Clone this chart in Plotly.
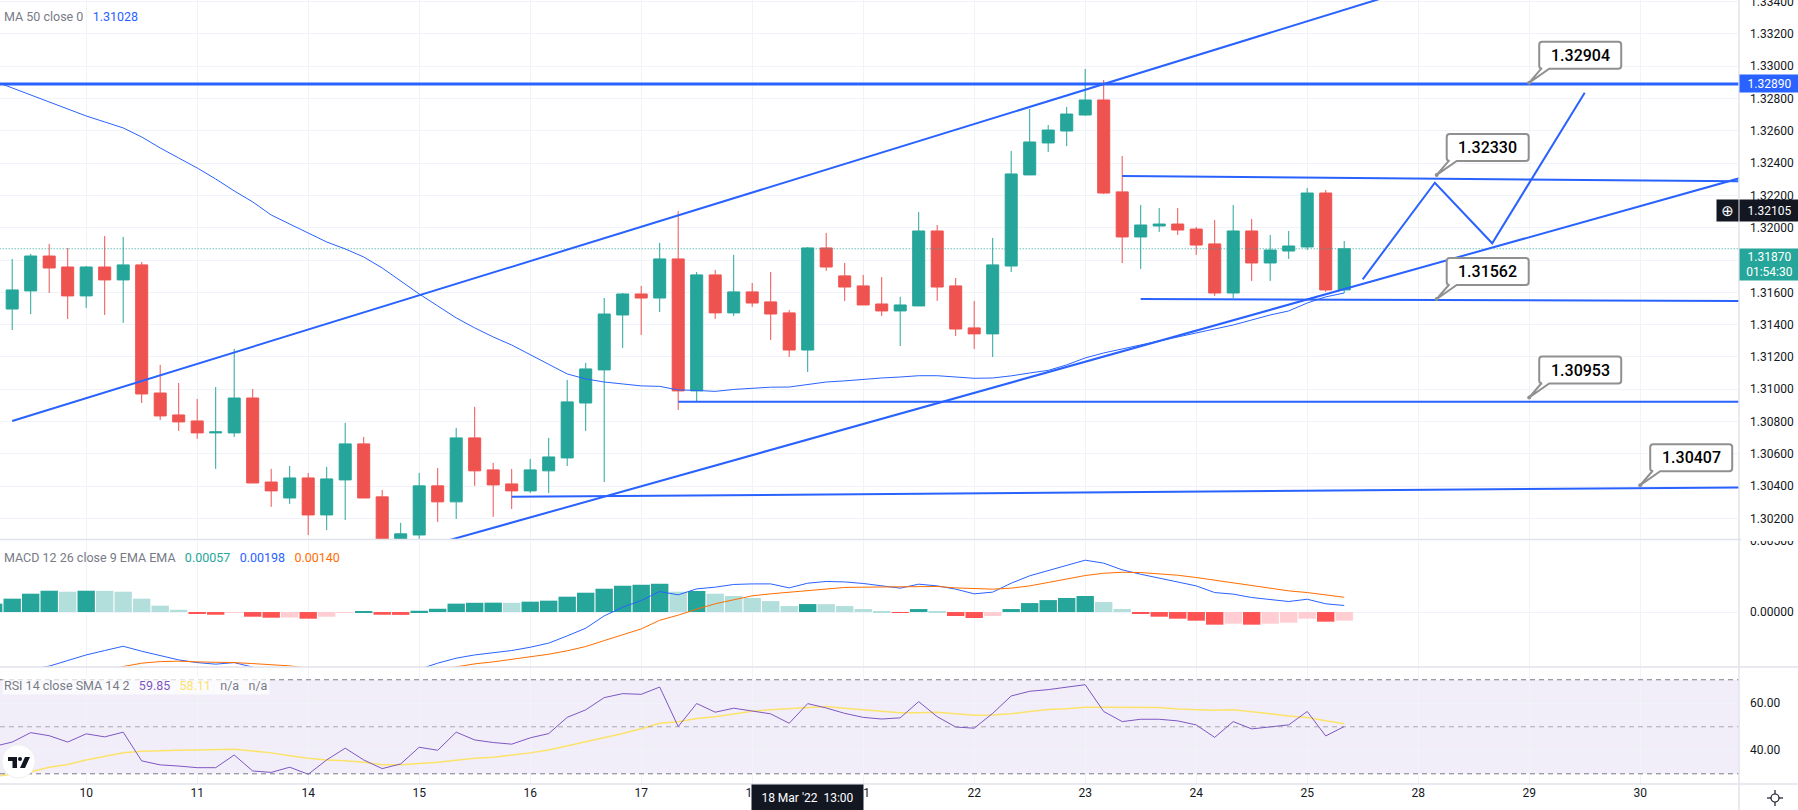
import plotly.graph_objects as go
from plotly.subplots import make_subplots

# 4H candles, index 0 is the first bar on the left
bars = list(range(73))
opens = [1.31497, 1.31609, 1.31825, 1.31757, 1.31578, 1.31757, 1.31677, 1.31770, 1.30977, 1.30841,
         1.30804, 1.30730, 1.30730, 1.30946, 1.30426, 1.30327, 1.30451, 1.30222, 1.30439, 1.30662,
         1.30334, 1.30030, 1.30098, 1.30402, 1.30303, 1.30699, 1.30501, 1.30414, 1.30371, 1.30495,
         1.30575, 1.30915, 1.31120, 1.31460, 1.31590, 1.31565, 1.31807, 1.30990, 1.31708, 1.31473,
         1.31603, 1.31541, 1.31473, 1.31243, 1.31875, 1.31702, 1.31640, 1.31528, 1.31485, 1.31516,
         1.31980, 1.31640, 1.31380, 1.31343, 1.31763, 1.32327, 1.32525, 1.32599, 1.32698, 1.32791,
         1.32222, 1.31943, 1.32011, 1.32023, 1.31992, 1.31900, 1.31596, 1.31980, 1.31782, 1.31856,
         1.31881, 1.32215, 1.31615]
highs = [1.31807, 1.31838, 1.31900, 1.31875, 1.31763, 1.31949, 1.31943, 1.31788, 1.31151, 1.31039,
         1.30940, 1.31014, 1.31250, 1.31002, 1.30507, 1.30525, 1.30482, 1.30519, 1.30792, 1.30705,
         1.30377, 1.30173, 1.30482, 1.30513, 1.30761, 1.30891, 1.30544, 1.30507, 1.30569, 1.30699,
         1.31058, 1.31163, 1.31565, 1.31596, 1.31640, 1.31906, 1.32104, 1.31726, 1.31739, 1.31832,
         1.31658, 1.31726, 1.31491, 1.31881, 1.31968, 1.31782, 1.31708, 1.31695, 1.31572, 1.32098,
         1.32017, 1.31689, 1.31547, 1.31937, 1.32475, 1.32735, 1.32636, 1.32748, 1.32983, 1.32915,
         1.32444, 1.32141, 1.32122, 1.32122, 1.32005, 1.32048, 1.32141, 1.32054, 1.31955, 1.31980,
         1.32246, 1.32234, 1.31918]
lows = [1.31367, 1.31466, 1.31596, 1.31435, 1.31503, 1.31460, 1.31411, 1.30915, 1.30810, 1.30742,
        1.30693, 1.30507, 1.30705, 1.30420, 1.30272, 1.30290, 1.30098, 1.30129, 1.30191, 1.30327,
        1.29975, 1.29975, 1.30074, 1.30179, 1.30197, 1.30402, 1.30210, 1.30259, 1.30358, 1.30358,
        1.30525, 1.30742, 1.30426, 1.31256, 1.31336, 1.31479, 1.30872, 1.30922, 1.31435, 1.31454,
        1.31510, 1.31305, 1.31200, 1.31107, 1.31733, 1.31547, 1.31522, 1.31454, 1.31268, 1.31516,
        1.31547, 1.31330, 1.31250, 1.31200, 1.31726, 1.32327, 1.32469, 1.32506, 1.32692, 1.32209,
        1.31782, 1.31745, 1.31974, 1.31955, 1.31832, 1.31578, 1.31565, 1.31671, 1.31671, 1.31807,
        1.31862, 1.31603, 1.31596]
closes = [1.31615, 1.31825, 1.31751, 1.31578, 1.31757, 1.31677, 1.31770, 1.30971, 1.30835, 1.30798,
          1.30730, 1.30736, 1.30946, 1.30420, 1.30371, 1.30451, 1.30222, 1.30445, 1.30662, 1.30327,
          1.30036, 1.30105, 1.30402, 1.30303, 1.30699, 1.30495, 1.30408, 1.30371, 1.30501, 1.30581,
          1.30922, 1.31126, 1.31466, 1.31590, 1.31565, 1.31807, 1.30990, 1.31708, 1.31473, 1.31603,
          1.31534, 1.31466, 1.31243, 1.31875, 1.31757, 1.31633, 1.31522, 1.31485, 1.31522, 1.31980,
          1.31633, 1.31373, 1.31343, 1.31770, 1.32333, 1.32531, 1.32605, 1.32704, 1.32791, 1.32215,
          1.31943, 1.32017, 1.32023, 1.31986, 1.31893, 1.31596, 1.31980, 1.31782, 1.31862, 1.31887,
          1.32215, 1.31615, 1.31870]

# indicators start one bar earlier, that bar is cut by the left edge
ind_bars = list(range(-1, 73))
ma50 = [1.32909, 1.32865, 1.32822, 1.32779, 1.32735, 1.32692, 1.32655, 1.32618, 1.32562, 1.32494,
        1.32432, 1.32370, 1.32302, 1.32228, 1.32160, 1.32079, 1.32023, 1.31968, 1.31912, 1.31869,
        1.31819, 1.31751, 1.31671, 1.31590, 1.31516, 1.31442, 1.31380, 1.31324, 1.31274, 1.31213,
        1.31151, 1.31095, 1.31064, 1.31045, 1.31033, 1.31021, 1.31018, 1.30996, 1.30993, 1.30987,
        1.30999, 1.31008, 1.31013, 1.31014, 1.31028, 1.31045, 1.31052, 1.31062, 1.31070, 1.31076,
        1.31084, 1.31084, 1.31076, 1.31068, 1.31070, 1.31083, 1.31101, 1.31117, 1.31151, 1.31194,
        1.31225, 1.31250, 1.31274, 1.31299, 1.31324, 1.31349, 1.31373, 1.31398, 1.31429, 1.31460,
        1.31485, 1.31534, 1.31572, 1.31596]
macd_hist = [.00059, .00094, .00129, .00150, .00143, .00150, .00149, .00143, .00094, .00045,
             .00016, -.00009, -.00019, -.00005, -.00033, -.00040, -.00039, -.00047, -.00033, -.00005,
             .00003, -.00019, -.00020, .00009, .00023, .00059, .00065, .00066, .00065, .00073,
             .00080, .00108, .00136, .00164, .00185, .00192, .00199, .00143, .00148, .00129,
             .00113, .00099, .00077, .00042, .00056, .00055, .00042, .00021, .00007, -.00005,
             .00021, .00007, -.00028, -.00042, -.00028, .00021, .00063, .00084, .00099, .00113,
             .00070, .00021, -.00012, -.00033, -.00047, -.00061, -.00089, -.00082, -.00089, -.00082,
             -.00075, -.00047, -.00068, -.00061]
macd_line = [-.00431, -.00419, -.00403, -.00381, -.00341, -.00302, -.00271, -.00241, -.00276, -.00309,
             -.00337, -.00356, -.00367, -.00356, -.00388, -.00431, -.00466, -.00501, -.00525, -.00513,
             -.00489, -.00466, -.00431, -.00403, -.00360, -.00325, -.00302, -.00288, -.00271, -.00248,
             -.00219, -.00168, -.00114, -.00027, .00034, .00081, .00144, .00121, .00163, .00175,
             .00194, .00198, .00198, .00170, .00203, .00215, .00212, .00201, .00184, .00168,
             .00196, .00184, .00161, .00128, .00140, .00203, .00255, .00292, .00332, .00365,
             .00344, .00297, .00266, .00238, .00215, .00184, .00137, .00126, .00102, .00086,
             .00074, .00090, .00058, .00046]
macd_signal = [-.00466, -.00473, -.00473, -.00466, -.00454, -.00431, -.00407, -.00386, -.00360, -.00349,
               -.00346, -.00351, -.00353, -.00356, -.00363, -.00372, -.00379, -.00395, -.00419, -.00435,
               -.00449, -.00454, -.00445, -.00431, -.00407, -.00386, -.00365, -.00351, -.00334, -.00316,
               -.00297, -.00273, -.00243, -.00201, -.00161, -.00119, -.00058, -.00022, .00020, .00058,
               .00086, .00114, .00128, .00140, .00154, .00165, .00173, .00175, .00175, .00177,
               .00180, .00180, .00170, .00163, .00161, .00168, .00184, .00208, .00234, .00257,
               .00273, .00280, .00278, .00271, .00259, .00243, .00224, .00205, .00187, .00168,
               .00149, .00137, .00121, .00104]
rsi = [41.6, 43.5, 47.5, 46.2, 43.5, 47.0, 45.7, 47.7, 35.5, 33.8,
       33.3, 32.6, 32.6, 38.0, 31.2, 30.6, 32.8, 29.8, 35.9, 40.9,
       35.9, 32.2, 34.2, 41.3, 40.0, 47.7, 44.4, 43.3, 42.6, 45.3,
       47.1, 54.0, 57.2, 62.4, 64.1, 63.8, 66.9, 50.1, 59.9, 56.2,
       57.9, 56.7, 55.5, 51.5, 59.85, 58.0, 55.7, 54.0, 53.3, 53.8,
       60.7, 54.3, 49.9, 49.4, 55.7, 63.1, 65.1, 65.8, 66.8, 67.9,
       56.5, 52.2, 53.2, 53.2, 52.5, 50.8, 45.5, 52.2, 49.1, 50.1,
       50.8, 56.5, 46.1, 50.1]
rsi_sma = [28.8, 29.8, 30.8, 32.8, 34.0, 35.9, 37.6, 39.0, 39.6, 39.9,
           40.0, 40.1, 40.3, 40.4, 39.7, 38.9, 37.7, 36.6, 35.9, 35.6,
           34.9, 33.9, 33.9, 34.3, 34.9, 35.8, 36.6, 37.0, 37.9, 38.9,
           40.1, 41.8, 43.4, 45.1, 47.1, 49.2, 51.5, 52.1, 53.5, 54.3,
           55.5, 56.6, 57.2, 57.7, 58.11, 58.6, 57.9, 57.2, 56.6, 56.0,
           56.0, 56.2, 55.5, 54.9, 55.0, 55.5, 56.5, 57.4, 57.7, 58.3,
           58.3, 58.2, 58.2, 58.2, 57.6, 57.2, 57.0, 57.2, 56.5, 55.5,
           54.6, 53.9, 52.6, 51.3]

# time axis
day_ticks = [4, 10, 16, 22, 28, 34, 40, 46, 52, 58, 64, 70, 76, 82, 88]
day_labels = ["10", "11", "14", "15", "16", "17", "18", "21", "22", "23", "24", "25", "28", "29", "30"]

# hand drawn lines: (bar, price) end points
channel_top = ([0, 75], [1.30804, 1.33455])
channel_bottom = ([23, 94], [1.30046, 1.32327])
level_1 = ([-1, 94], [1.32890, 1.32890])
level_2 = ([60, 94], [1.32321, 1.32287])
level_3 = ([61, 94], [1.31559, 1.31547])
level_4 = ([36, 94], [1.30923, 1.30923])
level_5 = ([27, 94], [1.30334, 1.30393])
forecast = ([73, 76.9, 80, 85], [1.31681, 1.32279, 1.31904, 1.32836])

# callouts: text, anchor bar, anchor price
callout_text = ["1.32904", "1.32330", "1.31562", "1.30953", "1.30407"]
callout_bar = [82, 77, 77, 82, 88]
callout_price = [1.32898, 1.32327, 1.31559, 1.30949, 1.30406]

BLUE = "#2962ff"
GREEN = "#26a69a"
RED = "#ef5350"
ORANGE = "#ff6d00"
PURPLE = "#7e57c2"
YELLOW = "#fbe36a"
GREY = "#787b86"
INK = "#131722"
GRID = "#f0f3fa"
EDGE = "#e0e3eb"
CALLOUT = "#909090"
FONT = "Roboto"

PLOT_W = 1739
PLOT_H = 784

# callout outline in px from its anchor, y up
CALLOUT_PATH = ("M 0 0 L 12 14 L 13 14 Q 10 14 10 17 L 10 38 Q 10 41 13 41 L 89 41 Q 92 41 92 38 "
                "L 92 17 Q 92 14 89 14 L 20 14 Z")


def px(x):
    return x / PLOT_W


def py(y):
    return 1 - y / PLOT_H


def hist_colors(values):
    colors = []
    prev = None
    for v in values:
        if v >= 0:
            colors.append(GREEN if prev is None or v > prev else "#b2dfdb")
        else:
            colors.append("#ff5252" if v < prev else "#ffcdd2")
        prev = v
    return colors


fig = make_subplots(rows=3, cols=1, shared_xaxes=True, vertical_spacing=0)

fig.add_trace(go.Candlestick(
    x=bars, open=opens, high=highs, low=lows, close=closes,
    whiskerwidth=0,
    increasing=dict(line=dict(color=GREEN, width=1), fillcolor=GREEN),
    decreasing=dict(line=dict(color=RED, width=1), fillcolor=RED),
), row=1, col=1)

fig.add_trace(go.Scatter(x=ind_bars, y=ma50, mode="lines", line=dict(color=BLUE, width=1)), row=1, col=1)

# last price line
fig.add_trace(go.Scatter(x=[-1, 94], y=[closes[-1], closes[-1]], mode="lines",
                         line=dict(color=GREEN, width=1, dash="1px 2px")), row=1, col=1)

for xs, ys in [channel_top, channel_bottom, level_2, level_3, level_4, level_5, forecast]:
    fig.add_trace(go.Scatter(x=xs, y=ys, mode="lines", line=dict(color=BLUE, width=2)), row=1, col=1)
fig.add_trace(go.Scatter(x=level_1[0], y=level_1[1], mode="lines", line=dict(color=BLUE, width=3)), row=1, col=1)

fig.add_trace(go.Bar(x=ind_bars, y=macd_hist, width=0.94, marker=dict(color=hist_colors(macd_hist), line_width=0)),
              row=2, col=1)
fig.add_trace(go.Scatter(x=ind_bars, y=macd_line, mode="lines", line=dict(color=BLUE, width=1)), row=2, col=1)
fig.add_trace(go.Scatter(x=ind_bars, y=macd_signal, mode="lines", line=dict(color=ORANGE, width=1)), row=2, col=1)

fig.add_trace(go.Scatter(x=ind_bars, y=rsi_sma, mode="lines", line=dict(color=YELLOW, width=1.5)), row=3, col=1)
fig.add_trace(go.Scatter(x=ind_bars, y=rsi, mode="lines", line=dict(color=PURPLE, width=1)), row=3, col=1)

# RSI band and its dashed levels
fig.add_shape(type="rect", xref="x3 domain", yref="y3", x0=0, x1=1, y0=30, y1=70,
              fillcolor="rgba(126,87,194,0.1)", line_width=0, layer="below")
for level, color in [(70, GREY), (50, "rgba(120,123,134,0.6)"), (30, GREY)]:
    fig.add_shape(type="line", xref="x3 domain", yref="y3", x0=0, x1=1, y0=level, y1=level,
                  line=dict(color=color, width=1, dash="5px 4px"))

# pane borders
for y in [539.5, 667, 784]:
    fig.add_shape(type="line", xref="paper", yref="paper", x0=0, x1=1.034, y0=py(y), y1=py(y),
                  line=dict(color=EDGE, width=1.5))
fig.add_shape(type="line", xref="paper", yref="paper", x0=1, x1=1, y0=py(0), y1=py(810),
              line=dict(color=EDGE, width=1.5))

# the top MACD label is cut by the pane border
fig.add_shape(type="rect", xref="paper", yref="paper", x0=px(1741), x1=px(1798), y0=py(533), y1=py(541),
              fillcolor="white", line_width=0, layer="above")

# logo
fig.add_shape(type="circle", xref="paper", yref="paper", x0=px(2), x1=px(35), y0=py(745), y1=py(778),
              fillcolor="white", line=dict(color="#f0f0f0", width=1))
fig.add_shape(type="path", xref="paper", yref="paper", fillcolor=INK, line_width=0,
              path="M {} {} L {} {} L {} {} L {} {} L {} {} L {} {} Z".format(
                  px(8), py(757), px(17), py(757), px(17), py(768), px(12.5), py(768), px(12.5), py(761), px(8), py(761)))
fig.add_shape(type="path", xref="paper", yref="paper", fillcolor=INK, line_width=0,
              path="M {} {} L {} {} L {} {} L {} {} Z".format(
                  px(25), py(757), px(30), py(757), px(25), py(768), px(20), py(768)))
fig.add_shape(type="circle", xref="paper", yref="paper", fillcolor=INK, line_width=0,
              x0=px(18), x1=px(22), y0=py(757), y1=py(761))

# settings icon
fig.add_shape(type="circle", xref="paper", yref="paper", x0=px(1771), x1=px(1779), y0=py(794), y1=py(802),
              line=dict(color=INK, width=1.2))
for x0, y0, x1, y1 in [(1775, 790, 1775, 794), (1775, 802, 1775, 806), (1767, 798, 1771, 798), (1779, 798, 1783, 798)]:
    fig.add_shape(type="line", xref="paper", yref="paper", x0=px(x0), x1=px(x1), y0=py(y0), y1=py(y1),
                  line=dict(color=INK, width=1.2))

annotations = []


def legend(y, parts, bg=None):
    text = "\u00a0\u00a0\u00a0".join('<span style="color:{}">{}</span>'.format(c, t) for t, c in parts)
    annotations.append(dict(xref="paper", yref="paper", x=px(2), y=py(y), xanchor="left", yanchor="middle",
                            text=text, showarrow=False, bgcolor=bg,
                            font=dict(family=FONT, size=12.5, color=GREY)))


legend(17, [("MA 50 close 0", GREY), ("1.31028", BLUE)])
legend(557.5, [("MACD 12 26 close 9 EMA EMA", GREY), ("0.00057", GREEN), ("0.00198", BLUE), ("0.00140", ORANGE)])
legend(685.5, [("RSI 14 close SMA 14 2", GREY), ("59.85", PURPLE), ("58.11", YELLOW), ("n/a", GREY), ("n/a", GREY)],
       bg="rgba(255,255,255,0.7)")

# callouts
for text, bar, price in zip(callout_text, callout_bar, callout_price):
    fig.add_shape(type="path", xref="x", yref="y", xsizemode="pixel", ysizemode="pixel",
                  xanchor=bar, yanchor=price, path=CALLOUT_PATH,
                  fillcolor="white", line=dict(color=CALLOUT, width=2), layer="above")
    fig.add_shape(type="circle", xref="x", yref="y", xsizemode="pixel", ysizemode="pixel",
                  xanchor=bar, yanchor=price, x0=-2, x1=2, y0=-2, y1=2,
                  fillcolor=CALLOUT, line_width=0, layer="above")
    annotations.append(dict(x=bar, y=price, xref="x", yref="y", text=text, showarrow=False,
                            xshift=51, yshift=27.5, xanchor="center", yanchor="middle",
                            font=dict(family=FONT, size=16, color="#000000", weight=500)))


def axis_label(price, text, bg, height=17):
    annotations.append(dict(xref="paper", yref="y", x=1, y=price, xanchor="left", yanchor="middle",
                            text=text, showarrow=False, bgcolor=bg, width=59, height=height, borderpad=0,
                            font=dict(family=FONT, size=12, color="white"), align="center"))


axis_label(level_1[1][0], "1.32890", BLUE)
axis_label(1.32105, "1.32105", INK, 21)
axis_label(1.31772, "1.31870<br>01:54:30", GREEN, 31)
annotations.append(dict(xref="paper", yref="y", x=1, y=1.32105, xanchor="right", yanchor="middle",
                        text="\u2295", showarrow=False, bgcolor=INK, width=21, height=21, borderpad=0,
                        font=dict(family="DejaVu Sans", size=15, color="white")))
annotations.append(dict(xref="x", yref="paper", x=43, y=py(784), xanchor="center", yanchor="top",
                        text="18 Mar '22\u00a0\u00a013:00", showarrow=False, bgcolor=INK, width=111, height=26,
                        borderpad=0, font=dict(family=FONT, size=12, color="white")))

fig.update_layout(
    width=1798, height=810,
    margin=dict(l=0, r=59, t=0, b=26),
    paper_bgcolor="white", plot_bgcolor="white",
    showlegend=False, hovermode=False, boxgap=0.35, boxgroupgap=0, bargap=0.05,
    font=dict(family=FONT, size=12, color=INK),
    annotations=annotations,
)

fig.update_xaxes(range=[-0.659, 93.34], tickmode="array", tickvals=day_ticks, ticktext=day_labels,
                 showgrid=True, gridcolor=GRID, gridwidth=1, zeroline=False, showline=False, automargin=False,
                 rangeslider_visible=False, tickfont=dict(family=FONT, size=12, color=INK))
fig.update_yaxes(side="right", showgrid=True, gridcolor=GRID, gridwidth=1, zeroline=False, showline=False,
                 automargin=False, ticks="", ticklabelstandoff=10, ticklabeloverflow="allow",
                 tickfont=dict(family=FONT, size=12, color=INK))

fig.update_layout(
    yaxis=dict(domain=[py(539.5), py(0)], range=[1.30070, 1.33410], tick0=1.302, dtick=0.002, tickformat=".5f"),
    yaxis2=dict(domain=[py(667), py(541)], range=[-0.00387, 0.005], tickvals=[0, 0.005], tickformat=".5f"),
    yaxis3=dict(domain=[py(784), py(668)], range=[25.66, 75.0], tickvals=[40, 60], tickformat=".2f"),
)

fig.write_html("out.html", config=dict(displayModeBar=False),
               post_script="document.body.style.margin='0';document.body.style.overflow='hidden';")
